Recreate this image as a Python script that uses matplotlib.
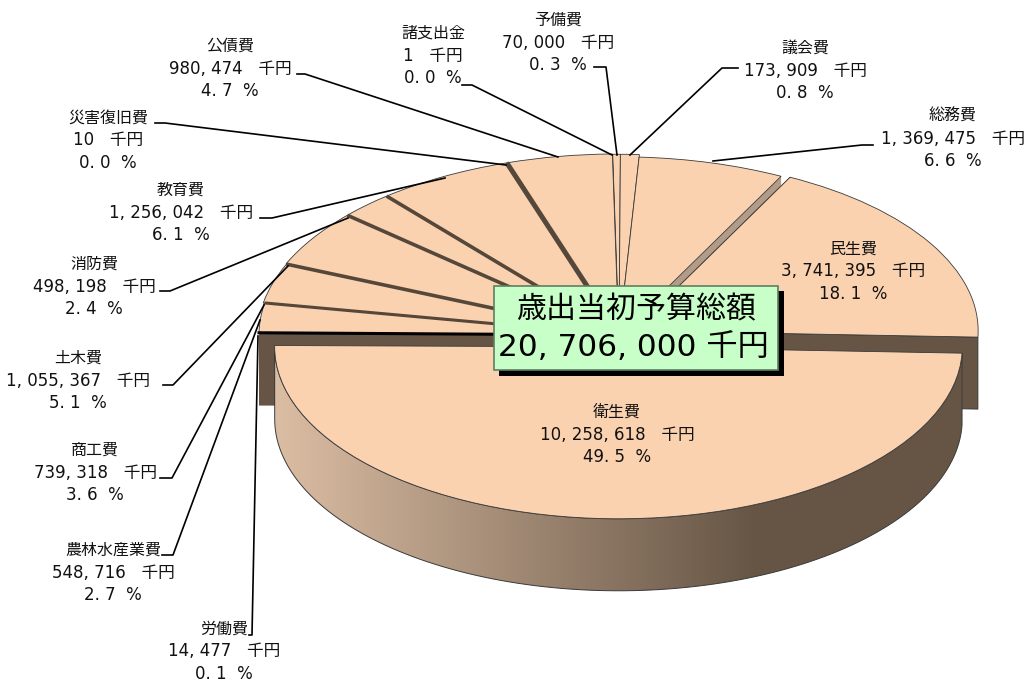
import numpy as np
import matplotlib
matplotlib.use('Agg')
import matplotlib.pyplot as plt
from matplotlib.colors import LinearSegmentedColormap
from matplotlib.patches import Polygon, Rectangle

plt.rcParams['font.family'] = ['DejaVu Sans', 'Noto Sans CJK JP']

# clockwise from the top
names = ['諸支出金', '予備費', '議会費', '総務費', '民生費', '衛生費', '労働費',
         '農林水産業費', '商工費', '土木費', '消防費', '教育費', '災害復旧費', '公債費']
amounts = [1, 70000, 173909, 1369475, 3741395, 10258618, 14477,
           548716, 739318, 1055367, 498198, 1256042, 10, 980474]
percents = [0.0, 0.3, 0.8, 6.6, 18.1, 49.5, 0.1, 2.7, 3.6, 5.1, 2.4, 6.1, 0.0, 4.7]
total_text = '20, 706, 000 千円'

explode = [0.004, 0.004, 0.004, 0.0, 0.046, 0.066, 0.0,
           0.0, 0.004, 0.006, 0.006, 0.006, 0.006, 0.006]
radius_fix = {3: 0.99, 4: 0.958, 5: 0.955}
wall_colors = ['#B39C87'] * 4 + ['#665545'] * 10
# slices whose trailing edge shows a dark gap, with its width
gap_widths = {7: 2.2, 8: 2.6, 9: 2.6, 10: 2.6, 12: 3.6}

# label centre x, y of first line, leader line in pixels
label_pos = [(433, 33), (558, 20), (805, 48), (953, 116), (853, 249), (617, 412), (224, 629),
             (113, 550), (95, 450), (78, 358), (94, 264), (181, 190), (108, 118), (230, 46)]
leaders = [[(462, 85), (472, 85), (612, 155)],
           [(594, 67), (606, 67), (617, 155)],
           [(738, 68), (722, 68), (630, 155)],
           [(873, 145), (862, 145), (713, 161)],
           None,
           None,
           [(249, 635), (252, 635), (258, 336)],
           [(162, 555), (173, 555), (260, 320)],
           [(160, 478), (172, 478), (264, 305)],
           [(163, 385), (173, 385), (288, 266)],
           [(160, 291), (170, 291), (348, 218)],
           [(260, 218), (272, 218), (445, 178)],
           [(155, 123), (165, 123), (506, 165)],
           [(297, 74), (305, 74), (558, 157)]]

W, H = 1028, 684
CX, CY, RX, RY = 619, 335, 360, 180
DEPTH = 72 / RY
FRONT = 5

fig = plt.figure(figsize=(W / 100, H / 100), dpi=100)
ax = fig.add_axes([0, 0, 1, 1])
wedges, _ = ax.pie(amounts, startangle=91, counterclock=False, colors=['#FBD2B0'] * len(amounts),
                   explode=explode, wedgeprops=dict(edgecolor='#3a3a3a', linewidth=0.6, zorder=2))
for i, r in radius_fix.items():
    wedges[i].set_radius(r)


def rim(w, n=120):
    t = np.radians(np.linspace(w.theta1, w.theta2, n))
    return w.center[0] + w.r * np.cos(t), w.center[1] + w.r * np.sin(t)


# cut walls of the slices, only seen through the gaps and under the front slice
for i, w in enumerate(wedges):
    if i == FRONT:
        continue
    x, y = rim(w)
    cx, cy = w.center
    for ex, ey in [(x[0], y[0]), (x[-1], y[-1])]:
        ax.add_patch(Polygon([(cx, cy), (ex, ey), (ex, ey - DEPTH), (cx, cy - DEPTH)],
                             facecolor=wall_colors[i], edgecolor='#333333' if i == 4 else 'none',
                             linewidth=0.6, zorder=1))

# dark gaps between the back slices
for i, lw in gap_widths.items():
    x, y = rim(wedges[i])
    ax.plot([wedges[i].center[0], x[0]], [wedges[i].center[1], y[0]], color='#55473a', lw=lw,
            solid_capstyle='butt', zorder=2.5)
# heavy line at the back of the front slice
x, y = rim(wedges[6])
ax.plot([x[0], wedges[6].center[0]], [y[0], wedges[6].center[1]], color='black', lw=2.2, zorder=2.5)

# front slice: gradient side and top
x, y = rim(wedges[FRONT])
side = np.column_stack([np.r_[x, x[::-1]], np.r_[y, y[::-1] - DEPTH]])
ramp = LinearSegmentedColormap.from_list('side', [(0, '#DBBDA3'), (0.7, '#665545'), (1, '#665545')])
x_left, x_right = x.min(), x.max()
im = ax.imshow(np.linspace(0, 1, 256)[None, :], cmap=ramp, aspect='auto', zorder=3,
               extent=(x_left, x_right, y.min() - DEPTH - 0.1, y.max()))
outline = Polygon(side, closed=True, facecolor='none', edgecolor='#3a3a3a', linewidth=0.7, zorder=3.5)
ax.add_patch(outline)
im.set_clip_path(outline)
wedges[FRONT].set_zorder(4)

ax.set_aspect('auto')
ax.set_xlim(-CX / RX, (W - CX) / RX)
ax.set_ylim((CY - H) / RY, CY / RY)
ax.axis('off')

# overlay in pixels for the labels and the box
lab = fig.add_axes([0, 0, 1, 1])
lab.set_xlim(0, W)
lab.set_ylim(H, 0)
lab.axis('off')
lab.patch.set_alpha(0)

for i, name in enumerate(names):
    amount = f'{amounts[i]:,}'.replace(',', ', ')
    pct = f'{percents[i]:.1f}'.replace('.', '. ')
    px, py = label_pos[i]
    lab.text(px, py, name, ha='center', va='center', fontsize=11.5, color='#111111')
    lab.text(px, py + 22.5, f'{amount}   千円', ha='center', va='center', fontsize=12, color='#111111')
    lab.text(px, py + 45, f'{pct}  %', ha='center', va='center', fontsize=12, color='#111111')
    if leaders[i] is not None:
        lab.plot(*zip(*leaders[i]), color='black', lw=1.2, solid_joinstyle='round')

lab.add_patch(Rectangle((499, 291), 285, 85, facecolor='black', edgecolor='none', zorder=5))
lab.add_patch(Rectangle((494, 286), 284, 84, facecolor='#C8FFC8', edgecolor='#5f7f5f', linewidth=1.2, zorder=6))
lab.text(636, 310, '歳出当初予算総額', ha='center', va='center', fontsize=21.6, color='black', zorder=7)
lab.text(633, 347, total_text, ha='center', va='center', fontsize=22.5, color='black', zorder=7)

fig.savefig('out.png', dpi=100)
